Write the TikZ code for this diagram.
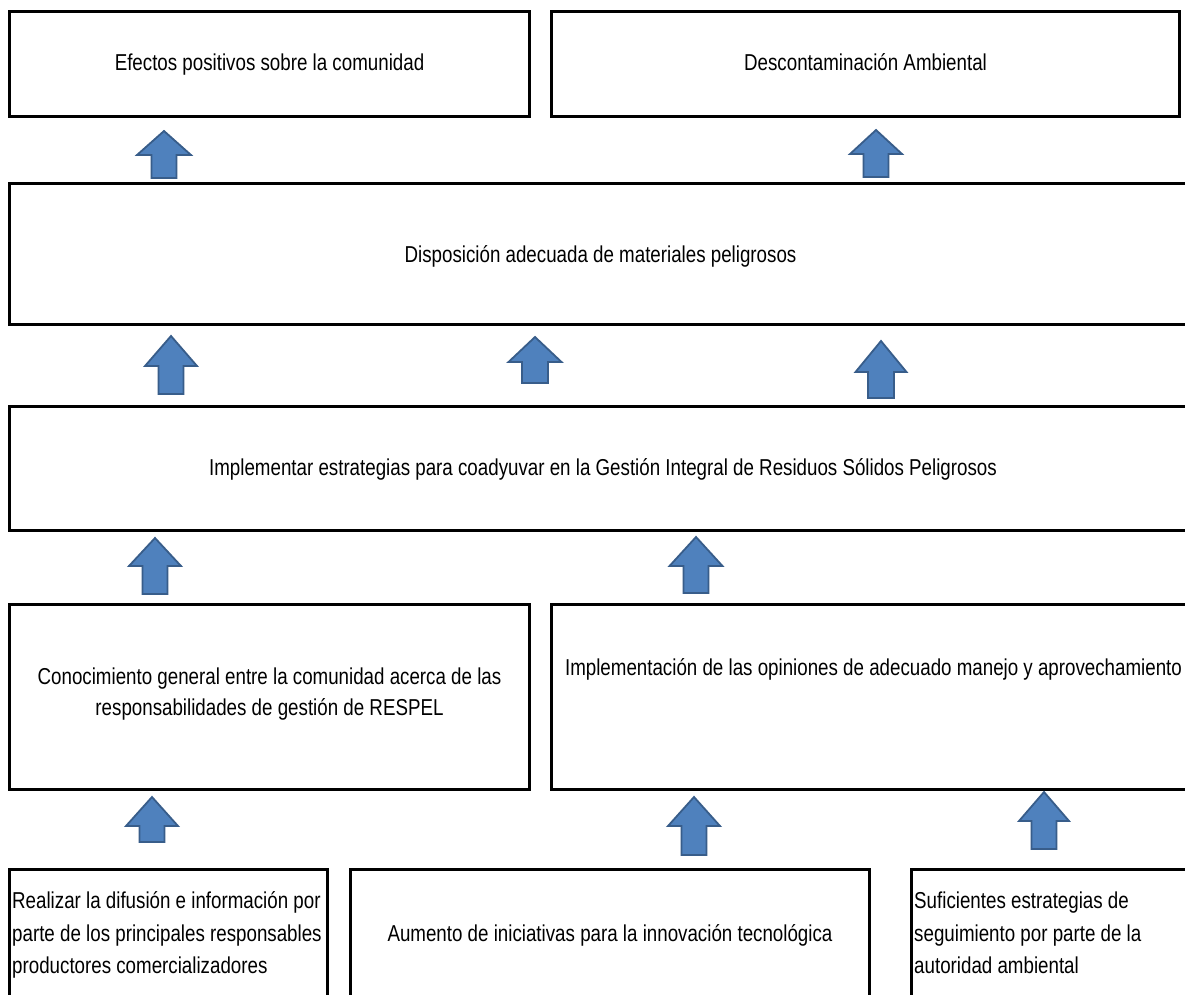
\documentclass[tikz,border=0pt]{standalone}
\usepackage{fontspec}
\setmainfont{Liberation Sans}[FakeStretch=0.815]
\definecolor{arrfill}{HTML}{4F81BD}
\definecolor{arrdraw}{HTML}{385D8A}
\tikzset{
  box/.style={draw=black, line width=3pt, inner sep=0pt, anchor=north west},
  lbl/.style={font=\fontsize{23}{32.5}\selectfont, inner sep=0pt},
  blockarrow/.style={fill=arrfill, draw=arrdraw, line width=1.8pt, line join=miter}
}
\newcommand\uparrowshape[6]{%
  \draw[blockarrow] (#1,#2) -- (#1+#4,#3) -- (#1+#5,#3) -- (#1+#5,#6) -- (#1-#5,#6) -- (#1-#5,#3) -- (#1-#4,#3) -- cycle;}
\begin{document}
\begin{tikzpicture}[x=1pt,y=-1pt]
\clip (0,0) rectangle (1185,994);
\fill[white] (0,0) rectangle (1185,994);
% boxes
\node[box, minimum width=520pt, minimum height=105pt] (A) at (8,10) {};
\node[box, minimum width=628pt, minimum height=105pt] (B) at (550,10) {};
\node[box, minimum width=1182pt, minimum height=141pt] (C) at (8,182) {};
\node[box, minimum width=1187pt, minimum height=124pt] (D) at (8,405) {};
\node[box, minimum width=520pt, minimum height=185pt] (E) at (8,603) {};
\node[box, minimum width=644pt, minimum height=185pt] (F) at (550,603) {};
\node[box, minimum width=318pt, minimum height=200pt] (G) at (8,868) {};
\node[box, minimum width=519pt, minimum height=200pt] (H) at (349,868) {};
\node[box, minimum width=300pt, minimum height=200pt] (I) at (910,868) {};
% texts
\node[lbl, anchor=base] (tA) at (A.center |- 0,70) {Efectos positivos sobre la comunidad};
\node[lbl, anchor=base] (tB) at (B.center |- 0,70) {Descontaminación Ambiental};
\node[lbl, anchor=base] (tC) at (C.center |- 0,262) {Disposición adecuada de materiales peligrosos};
\node[lbl, anchor=base] (tD) at (D.center |- 0,475) {Implementar estrategias para coadyuvar en la Gestión Integral de Residuos Sólidos Peligrosos};
\node[lbl, anchor=base] (tE1) at (E.center |- 0,684) {Conocimiento general entre la comunidad acerca de las};
\node[lbl, anchor=base] (tE2) at (E.center |- 0,715) {responsabilidades de gestión de RESPEL};
\node[lbl, anchor=base] (tF) at (F.center |- 0,675) {Implementación de las opiniones de adecuado manejo y aprovechamiento};
\node[lbl, anchor=base west] (tG1) at (12,908) {Realizar la difusión e información por};
\node[lbl, anchor=base west] (tG2) at (12,941) {parte de los principales responsables};
\node[lbl, anchor=base west] (tG3) at (12,973) {productores comercializadores};
\node[lbl, anchor=base] (tH) at (H.center |- 0,941) {Aumento de iniciativas para la innovación tecnológica};
\node[lbl, anchor=base west] (tI1) at (914,908) {Suficientes estrategias de};
\node[lbl, anchor=base west] (tI2) at (914,941) {seguimiento por parte de la};
\node[lbl, anchor=base west] (tI3) at (914,973) {autoridad ambiental};
% arrows
\uparrowshape{164}{131}{155}{27}{12.5}{178}
\uparrowshape{876}{130}{154}{26}{12.5}{177}
\uparrowshape{171}{336}{366}{26}{12.5}{394}
\uparrowshape{535}{337}{362}{26.5}{13}{383}
\uparrowshape{881}{341}{372}{25.5}{13}{398}
\uparrowshape{155}{538}{566}{26}{12.5}{594}
\uparrowshape{696}{537}{566}{26.5}{12.5}{593}
\uparrowshape{152}{797}{826}{26}{12.5}{842}
\uparrowshape{694}{797}{826}{26}{12.5}{855}
\uparrowshape{1044}{792}{821}{25}{12.5}{849}
\end{tikzpicture}
\end{document}
